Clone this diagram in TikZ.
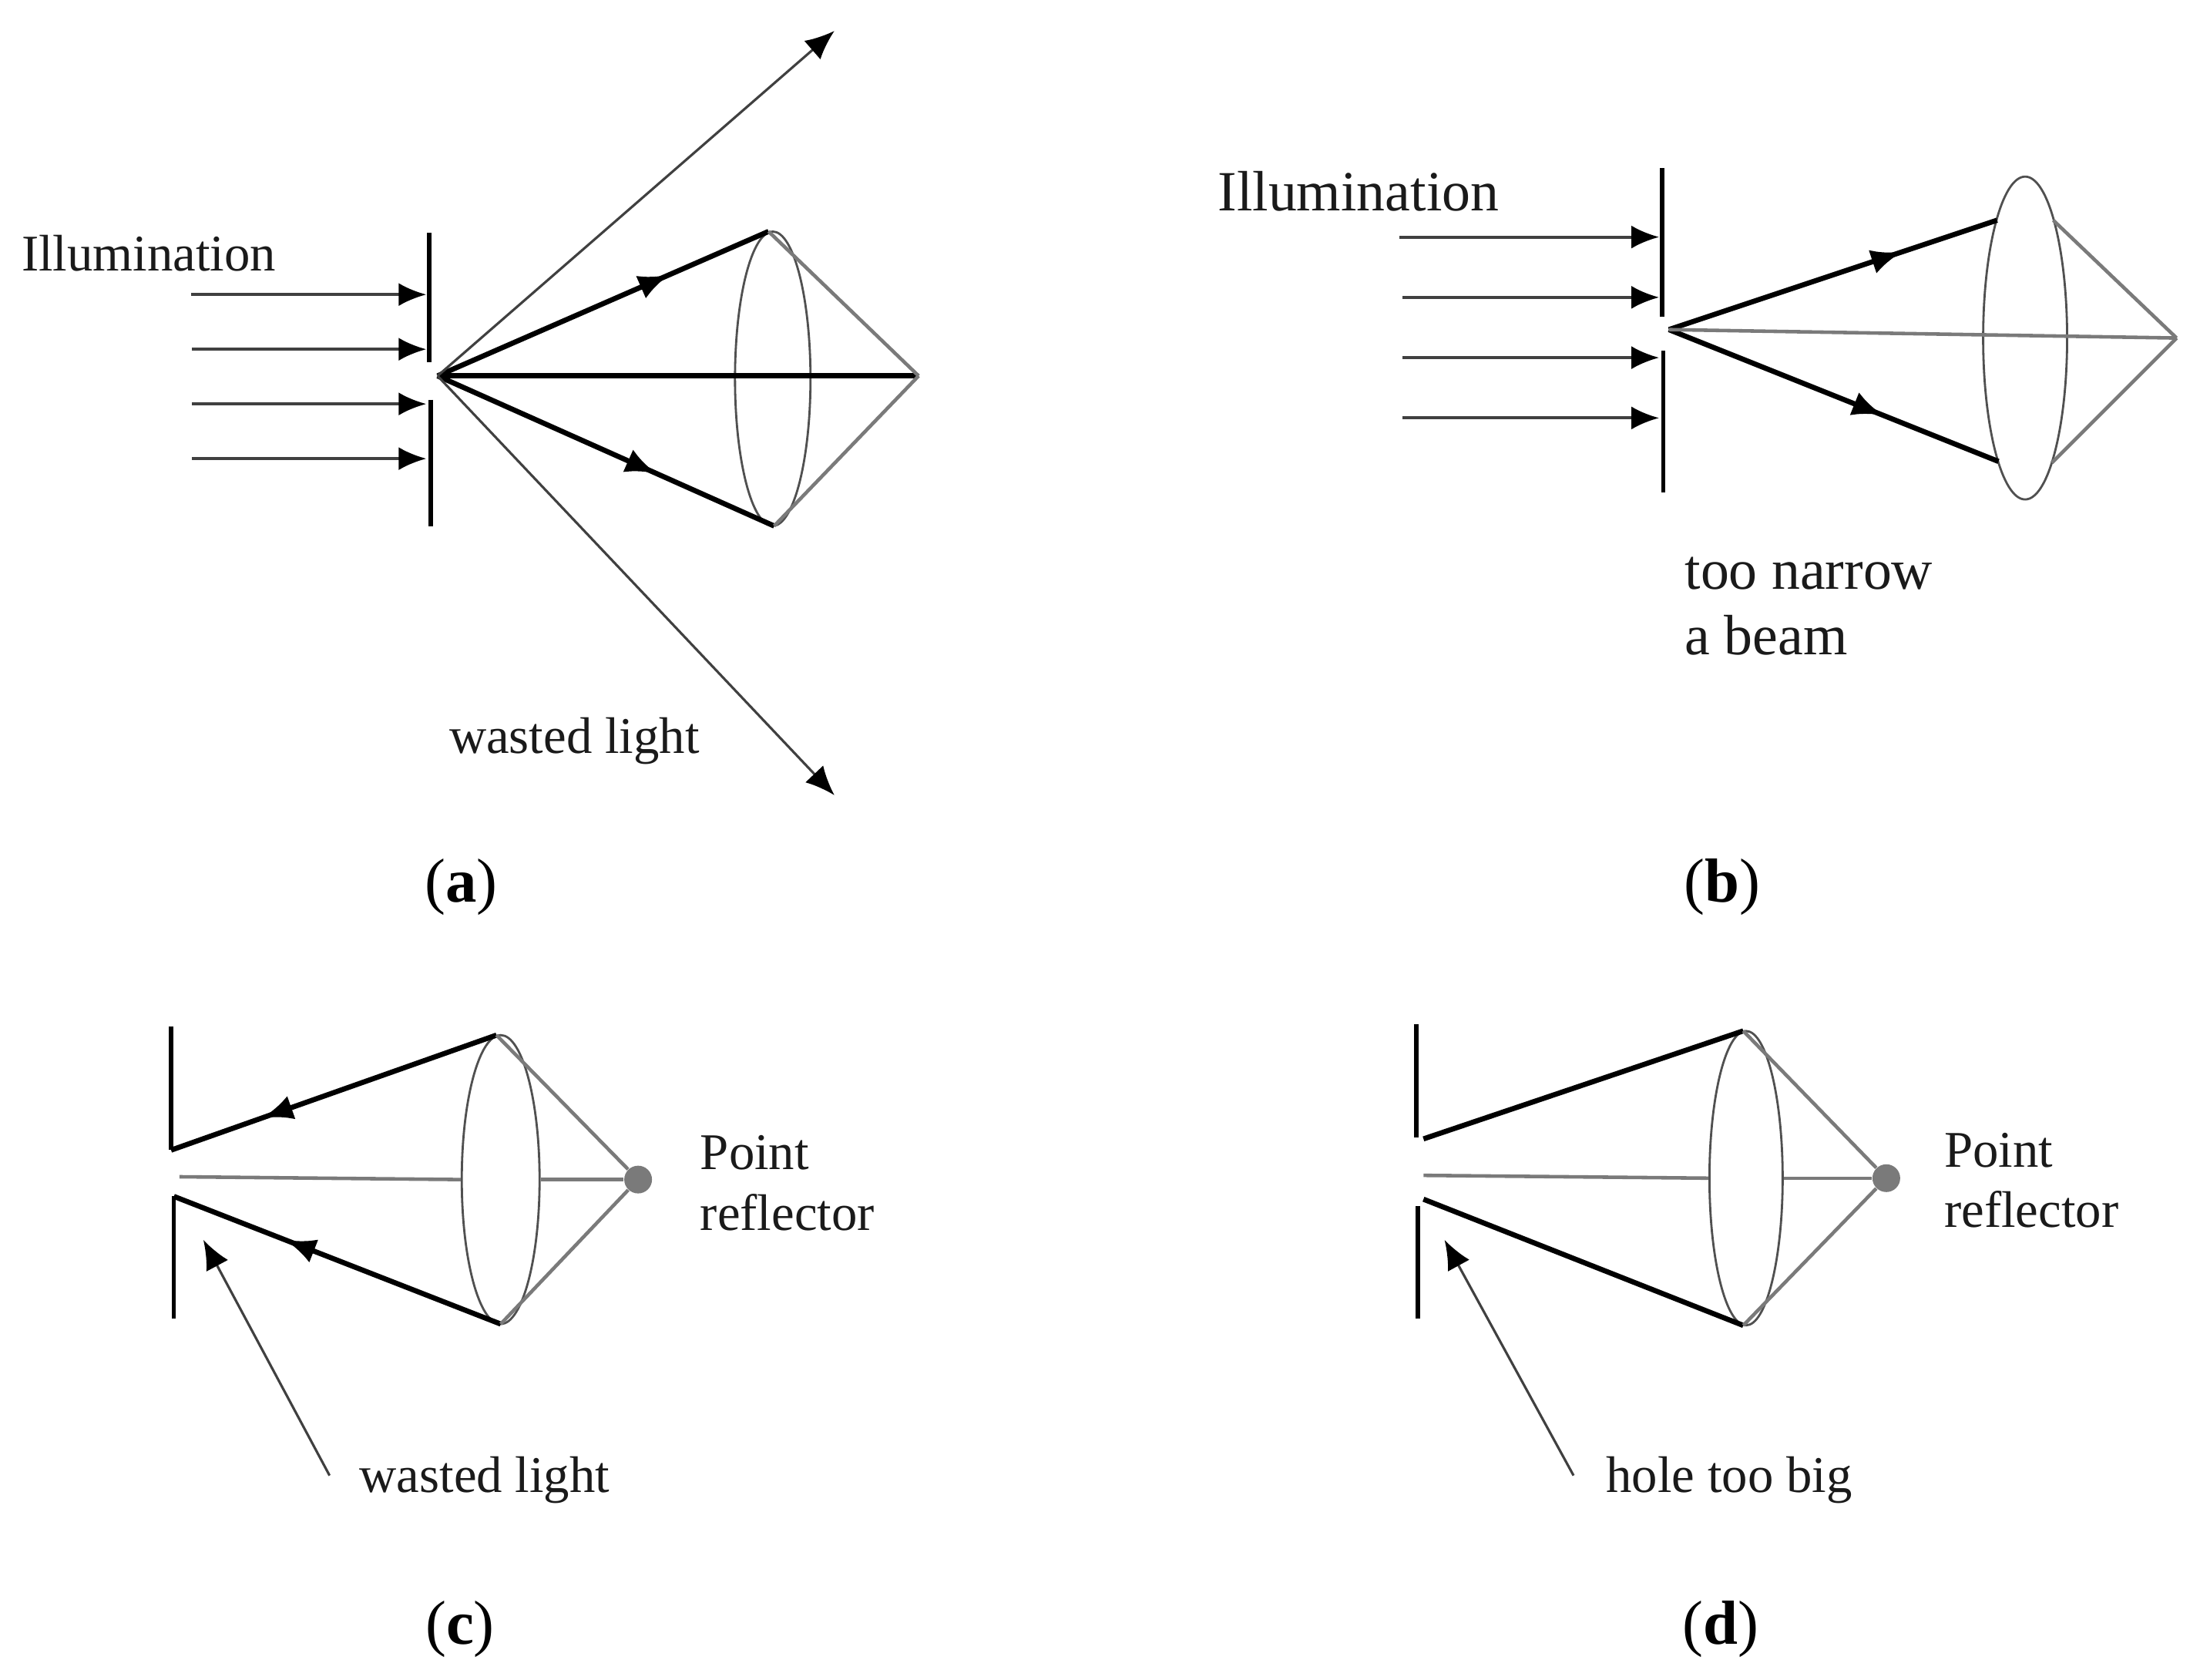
\documentclass[tikz,border=0pt]{standalone}
\usepackage{fontspec}
\setmainfont{Liberation Serif}
\usetikzlibrary{arrows.meta,shapes.geometric,decorations.markings}

\begin{document}
\begin{tikzpicture}[x=0.0182cm,y=-0.0182cm,
  stopbar/.style={line width=1.6pt,color=black},
  illum/.style={line width=1.1pt,color=gris_oscuro,-{Latex[length=3.6mm,width=3mm,color=black]}},
  beam/.style={line width=1.9pt,color=black},
  midtip/.style={postaction={decorate},decoration={markings,mark=at position #1 with {\arrow{Latex[length=4mm,width=3.2mm]}}}},
  focus/.style={line width=1.3pt,color=gris_claro},
  waste/.style={line width=0.9pt,color=gris_oscuro,-{Latex[length=3.8mm,width=3.2mm,color=black]}},
  lens/.style={ellipse,draw,line width=0.8pt,color=gris_medio,inner sep=0,minimum width=#1},
  spot/.style={circle,fill=gris_claro,inner sep=0,minimum size=0.36cm},
  note/.style={anchor=base west,inner sep=0,text=tinta,font=\fontsize{19}{23}\selectfont},
  panel/.style={anchor=base,inner sep=0,text=black,font=\fontsize{23}{27}\selectfont}]

    \definecolor{gris_oscuro}{HTML}{404040}
    \definecolor{gris_medio}{HTML}{505050}
    \definecolor{gris_claro}{HTML}{7A7A7A}
    \definecolor{tinta}{HTML}{1A1A1A}

  \useasboundingbox (0,0) rectangle (1568.7,1197.3);

  % Panel a: wide illumination, light wasted

  \begin{scope}
    \node [note] (aillum) at (15,193) {Illumination};
    \node [note] (awaste) at (320,537) {wasted light};
    \node [panel] (acap) at (329,643) {(\textbf{a})};

    \node [lens=0.98cm,minimum height=3.82cm] (alens) at (551,270) {};
    \coordinate (ahole) at (312,268);
    \coordinate (atop) at (548,165);
    \coordinate (abot) at (552,375);
    \coordinate (afoc) at (655,268);
    \coordinate (aup) at (595,22);
    \coordinate (adown) at (595,567);

    \draw [stopbar] (306,166) -- (306,258);
    \draw [stopbar] (307,285) -- (307,375);

    \draw [illum] (136,210) -- (304,210);
    \draw [illum] (137,249) -- (304,249);
    \draw [illum] (137,288) -- (304,288);
    \draw [illum] (137,327) -- (304,327);

    \draw [beam,midtip=0.70] (ahole) -- (atop);
    \draw [beam,midtip=0.65] (ahole) -- (abot);
    \draw [beam] (ahole) -- (afoc);
    \draw [focus] (atop) -- (afoc);
    \draw [focus] (abot) -- (afoc);
    \draw [waste] (ahole) -- (aup);
    \draw [waste] (ahole) -- (adown);
  \end{scope}

  % Panel b: beam too narrow

  \begin{scope}
    \node [note,font=\fontsize{21}{25}\selectfont] (billum) at (868,150) {Illumination};
    \node [note,font=\fontsize{21}{25}\selectfont] (bnarrow) at (1201,420) {too narrow};
    \node [note,font=\fontsize{21}{25}\selectfont] (bbeam) at (1201,467) {a beam};
    \node [panel] (bcap) at (1228,643) {(\textbf{b})};

    \node [lens=1.09cm,minimum height=4.19cm] (blens) at (1444,241) {};
    \coordinate (bhole) at (1190,235);
    \coordinate (btop) at (1424,157);
    \coordinate (bbot) at (1425,329);
    \coordinate (btopr) at (1464,157);
    \coordinate (bbotr) at (1463,330);
    \coordinate (bfoc) at (1552,241);

    \draw [stopbar] (1185,120) -- (1185,226);
    \draw [stopbar] (1186,250) -- (1186,351);

    \draw [illum] (998,169) -- (1183,169);
    \draw [illum] (1000,212) -- (1183,212);
    \draw [illum] (1000,255) -- (1183,255);
    \draw [illum] (1000,298) -- (1183,298);

    \draw [beam,midtip=0.71] (bhole) -- (btop);
    \draw [beam,midtip=0.65] (bhole) -- (bbot);
    \draw [focus] (bhole) -- (bfoc);
    \draw [focus] (btopr) -- (bfoc);
    \draw [focus] (bbotr) -- (bfoc);
  \end{scope}

  % Panel c: point reflector, light wasted around the hole

  \begin{scope}
    \node [note] (cpoint) at (499,834) {Point};
    \node [note] (crefl) at (499,877) {reflector};
    \node [note] (cwaste) at (256,1064) {wasted light};
    \node [panel] (ccap) at (328,1172) {(\textbf{c})};

    \node [lens=1.01cm,minimum height=3.75cm] (clens) at (357,841) {};
    \node [spot] (cdot) at (455,841) {};
    \coordinate (ctop) at (354,738);
    \coordinate (cbot) at (357,944);
    \coordinate (cupper) at (122,820);
    \coordinate (clower) at (124,853);
    \coordinate (cmid) at (128,839);
    \coordinate (cnote) at (235,1052);
    \coordinate (cgap) at (145,884);

    \draw [stopbar] (122,732) -- (cupper);
    \draw [stopbar] (clower) -- (124,940);

    \draw [beam,midtip=0.72] (ctop) -- (cupper);
    \draw [beam,midtip=0.66] (cbot) -- (clower);
    \draw [focus] (cmid) -- (clens.west);
    \draw [focus] (clens.east) -- (cdot);
    \draw [focus] (ctop) -- (cdot);
    \draw [focus] (cbot) -- (cdot);
    \draw [waste] (cnote) -- (cgap);
  \end{scope}

  % Panel d: point reflector, hole too big

  \begin{scope}
    \node [note] (dpoint) at (1386,832) {Point};
    \node [note] (drefl) at (1386,875) {reflector};
    \node [note] (dbig) at (1145,1064) {hole too big};
    \node [panel] (dcap) at (1227,1172) {(\textbf{d})};

    \node [lens=0.95cm,minimum height=3.82cm] (dlens) at (1245,840) {};
    \node [spot] (ddot) at (1345,840) {};
    \coordinate (dtop) at (1243,735);
    \coordinate (dbot) at (1243,945);
    \coordinate (dupper) at (1015,812);
    \coordinate (dlower) at (1015,855);
    \coordinate (dmid) at (1015,838);
    \coordinate (dnote) at (1122,1052);
    \coordinate (dgap) at (1030,884);

    \draw [stopbar] (1010,730) -- (1010,811);
    \draw [stopbar] (1011,860) -- (1011,940);

    \draw [beam] (dupper) -- (dtop);
    \draw [beam] (dlower) -- (dbot);
    \draw [focus] (dmid) -- (dlens.west);
    \draw [focus] (dlens.east) -- (ddot);
    \draw [focus] (dtop) -- (ddot);
    \draw [focus] (dbot) -- (ddot);
    \draw [waste] (dnote) -- (dgap);
  \end{scope}

\end{tikzpicture}
\end{document}
